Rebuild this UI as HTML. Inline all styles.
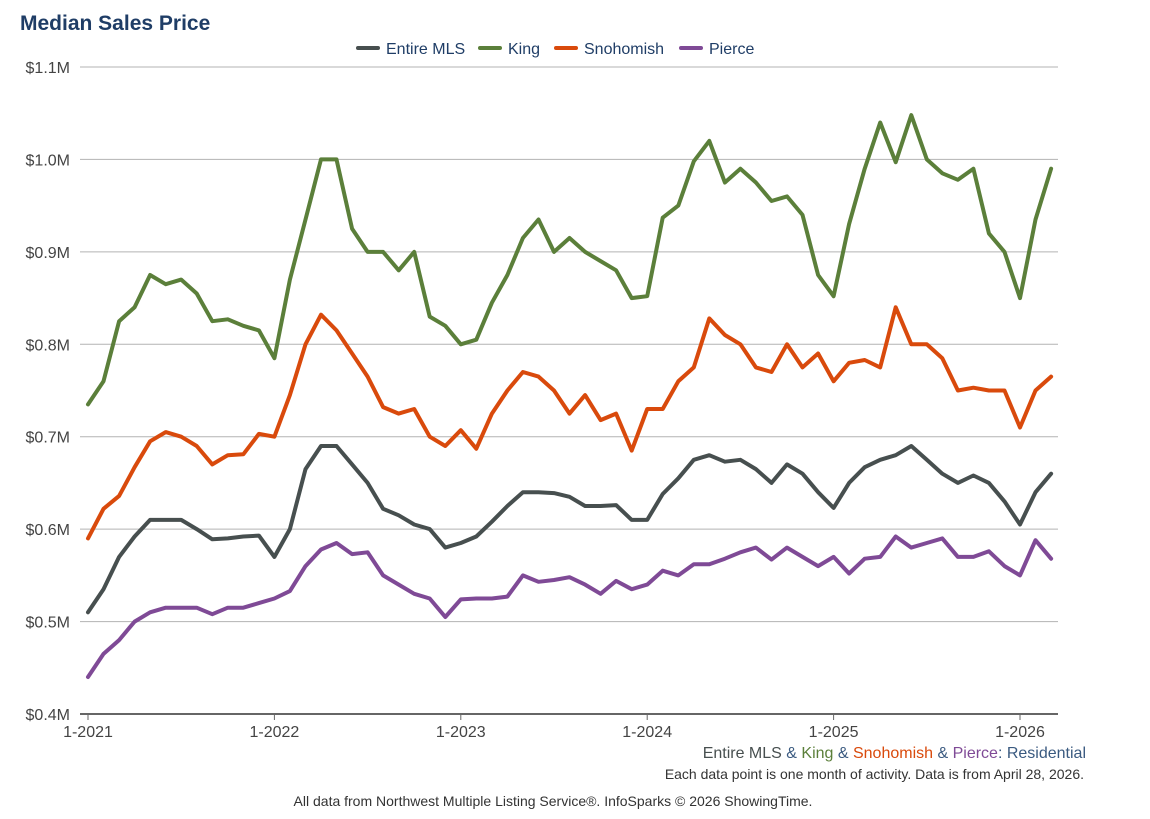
<!DOCTYPE html>
<html><head><meta charset="utf-8"><style>
body{margin:0;background:#fff;font-family:"Liberation Sans",Arial,sans-serif;}
svg{display:block}
</style></head><body>
<svg id="chart" width="1150" height="819">
<text x="20" y="30" font-size="21" font-weight="bold" fill="#1f3d66">Median Sales Price</text>
<g id="legend"></g>
<g id="grid"></g>
<g id="yaxis"></g>
<g id="xaxis"></g>
<g id="series"></g>
<text x="1086" y="758" font-size="16" text-anchor="end"><tspan fill="#474f4f">Entire MLS</tspan><tspan fill="#3a5a80"> &amp; </tspan><tspan fill="#5b7f3a">King</tspan><tspan fill="#3a5a80"> &amp; </tspan><tspan fill="#d94a0c">Snohomish</tspan><tspan fill="#3a5a80"> &amp; </tspan><tspan fill="#7f4a96">Pierce</tspan><tspan fill="#3a5a80">: Residential</tspan></text>
<text x="1084" y="779" font-size="14" text-anchor="end" fill="#333">Each data point is one month of activity. Data is from April 28, 2026.</text>
<text x="553" y="806" font-size="14" text-anchor="middle" fill="#333">All data from Northwest Multiple Listing Service®. InfoSparks © 2026 ShowingTime.</text>
</svg>
<script>
const yTicks=[0.4,0.5,0.6,0.7,0.8,0.9,1.0,1.1];
const yTickLabels=["$0.4M","$0.5M","$0.6M","$0.7M","$0.8M","$0.9M","$1.0M","$1.1M"];
const xTickLabels=["1-2021","1-2022","1-2023","1-2024","1-2025","1-2026"];
const xTickIndex=[0,12,24,36,48,60];
const seriesNames=["Entire MLS","King","Snohomish","Pierce"];
const seriesColors=["#474f4f","#5b7f3a","#d94a0c","#7f4a96"];
const entireMLS=[0.51,0.535,0.57,0.592,0.61,0.61,0.61,0.60,0.589,0.59,0.592,0.593,
0.57,0.60,0.665,0.69,0.69,0.67,0.65,0.622,0.615,0.605,0.60,0.58,
0.585,0.592,0.608,0.625,0.64,0.64,0.639,0.635,0.625,0.625,0.626,0.61,
0.61,0.638,0.655,0.675,0.68,0.673,0.675,0.665,0.65,0.67,0.66,0.64,
0.623,0.65,0.667,0.675,0.68,0.69,0.675,0.66,0.65,0.658,0.65,0.63,
0.605,0.64,0.66];
const king=[0.735,0.76,0.825,0.84,0.875,0.865,0.87,0.855,0.825,0.827,0.82,0.815,
0.785,0.87,0.935,1.0,1.0,0.925,0.9,0.9,0.88,0.9,0.83,0.82,
0.80,0.805,0.845,0.875,0.915,0.935,0.9,0.915,0.9,0.89,0.88,0.85,
0.852,0.937,0.95,0.998,1.02,0.975,0.99,0.975,0.955,0.96,0.94,0.875,
0.852,0.93,0.99,1.04,0.997,1.048,1.0,0.985,0.978,0.99,0.92,0.9,
0.85,0.935,0.99];
const snohomish=[0.59,0.622,0.636,0.667,0.695,0.705,0.70,0.69,0.67,0.68,0.681,0.703,
0.70,0.745,0.80,0.832,0.815,0.79,0.765,0.732,0.725,0.73,0.70,0.69,
0.707,0.687,0.725,0.75,0.77,0.765,0.75,0.725,0.745,0.718,0.725,0.685,
0.73,0.73,0.76,0.775,0.828,0.81,0.80,0.775,0.77,0.80,0.775,0.79,
0.76,0.78,0.783,0.775,0.84,0.80,0.80,0.785,0.75,0.753,0.75,0.75,
0.71,0.75,0.765];
const pierce=[0.44,0.465,0.48,0.50,0.51,0.515,0.515,0.515,0.508,0.515,0.515,0.52,
0.525,0.533,0.56,0.578,0.585,0.573,0.575,0.55,0.54,0.53,0.525,0.505,
0.524,0.525,0.525,0.527,0.55,0.543,0.545,0.548,0.54,0.53,0.544,0.535,
0.54,0.555,0.55,0.562,0.562,0.568,0.575,0.58,0.567,0.58,0.57,0.56,
0.57,0.552,0.568,0.57,0.592,0.58,0.585,0.59,0.57,0.57,0.576,0.56,
0.55,0.588,0.568];
const allSeries=[entireMLS,king,snohomish,pierce];

const NS="http://www.w3.org/2000/svg";
const X0=88,X1=1020,Y0=714,Y1=67;
function xs(i){return X0+(X1-X0)*i/60;}
function ys(v){return Y0-(v-0.4)/(1.1-0.4)*(Y0-Y1);}
function mk(tag,attrs,parent){const e=document.createElementNS(NS,tag);for(const k in attrs)e.setAttribute(k,attrs[k]);parent.appendChild(e);return e;}

const grid=document.getElementById('grid'),yax=document.getElementById('yaxis'),xax=document.getElementById('xaxis');
yTicks.forEach((t,i)=>{
  if(i>0){const l=mk('line',{x1:80,x2:1058,y1:ys(t),y2:ys(t),stroke:'#b3b3b3','stroke-width':1},grid);
  
  }
  const tx=mk('text',{x:70,y:ys(t)+6,'font-size':16,'text-anchor':'end',fill:'#444'},yax);
  tx.textContent=yTickLabels[i];
  
  
});
const ax=mk('line',{x1:80,x2:1058,y1:Y0,y2:Y0,stroke:'#666','stroke-width':2},xax);


xTickIndex.forEach((ix,i)=>{
  const tk=mk('line',{x1:xs(ix),x2:xs(ix),y1:Y0,y2:Y0+6,stroke:'#666','stroke-width':1},xax);
  
  
  const tx=mk('text',{x:xs(ix),y:Y0+23,'font-size':16,'text-anchor':'middle',fill:'#444'},xax);
  tx.textContent=xTickLabels[i];
  
  
});
const sg=document.getElementById('series');
allSeries.forEach((s,k)=>{
  const d=s.map((v,i)=>(i?'L':'M')+xs(i).toFixed(1)+','+ys(v).toFixed(1)).join('');
  const p=mk('path',{d:d,fill:'none',stroke:seriesColors[k],'stroke-width':4,'stroke-linejoin':'round','stroke-linecap':'round'},sg);
  
  
});
const lg=document.getElementById('legend');
const lx=[358,480,556,681];
seriesNames.forEach((n,k)=>{
  const g=mk('g',{},lg);
  
  
  mk('line',{x1:lx[k],x2:lx[k]+20,y1:48,y2:48,stroke:seriesColors[k],'stroke-width':4,'stroke-linecap':'round'},g);
  const t=mk('text',{x:lx[k]+28,y:54,'font-size':16,fill:'#1f3d66'},g);
  t.textContent=n;
});
</script>
</body></html>
